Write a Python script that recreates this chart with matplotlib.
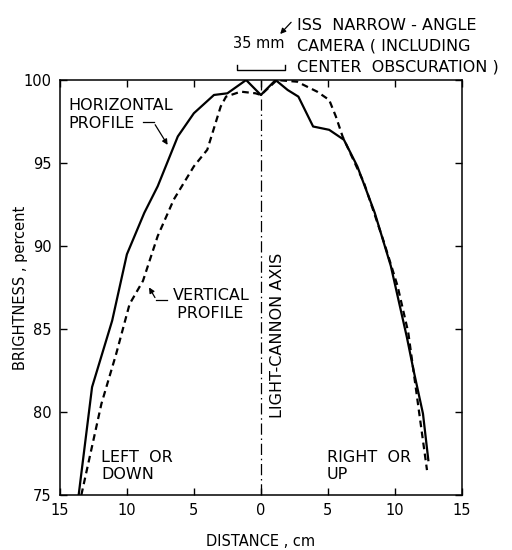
import matplotlib
matplotlib.use("Agg")
import matplotlib.pyplot as plt

# ── data (negative x = left/down side) ──
horiz_x = [-13.6, -12.6, -11.1, -10.0, -8.7, -7.7, -6.2, -5.0, -3.5, -2.5,
           -1.1, 0.0, 1.1, 2.0, 2.8, 3.9, 5.1, 6.2, 7.2, 8.5, 9.7, 10.9,
           11.4, 12.1, 12.5]
horiz_y = [75.0, 81.5, 85.5, 89.5, 92.0, 93.6, 96.6, 98.0, 99.1, 99.2,
           100.0, 99.1, 100.0, 99.4, 99.0, 97.2, 97.0, 96.4, 94.8, 92.0,
           88.8, 84.5, 82.5, 79.9, 77.1]

vert_x = [-13.4, -11.9, -10.8, -9.8, -8.8, -7.7, -6.5, -5.0, -4.0, -3.0,
          -2.6, -1.5, -0.4, 0.0, 1.2, 2.7, 4.2, 5.1, 5.6, 6.1, 7.7, 9.2,
          10.2, 11.0, 12.4]
vert_y = [75.0, 80.5, 83.5, 86.5, 87.9, 90.6, 92.8, 94.8, 95.8, 98.4,
          99.0, 99.3, 99.2, 99.1, 100.0, 99.9, 99.3, 98.8, 97.8, 96.6,
          93.8, 90.2, 87.6, 84.8, 76.5]

x_ticks = [-15, -10, -5, 0, 5, 10, 15]
x_ticklabels = ["15", "10", "5", "0", "5", "10", "15"]
y_ticks = [75, 80, 85, 90, 95, 100]

plt.rcParams["font.family"] = "DejaVu Sans"
FS = 11.5

fig = plt.figure(figsize=(5.12, 5.5), dpi=100)
ax = fig.add_axes([0.117, 0.1, 0.785, 0.7545])

ax.plot(horiz_x, horiz_y, color="black", lw=1.6, solid_joinstyle="round")
ax.plot(vert_x, vert_y, color="black", lw=1.6, ls=(0, (3, 2)))
ax.axvline(0, color="black", lw=0.9, ls=(0, (9, 3, 1.2, 3)))

ax.set_xlim(-15, 15)
ax.set_ylim(75, 100)
ax.set_xticks(x_ticks)
ax.set_xticklabels(x_ticklabels)
ax.set_yticks(y_ticks)
ax.tick_params(direction="in", length=5, width=1, top=True, right=True,
               labelsize=10.5, pad=6)
for sp in ax.spines.values():
    sp.set_linewidth(1.1)

ax.set_xlabel("DISTANCE , cm", fontsize=10.5, labelpad=11)
ax.set_ylabel("BRIGHTNESS , percent", fontsize=10.5)
ax.yaxis.set_label_coords(-0.08, 0.5)

arrow = dict(arrowstyle="-|>", color="black", lw=0.9, mutation_scale=8)

# horizontal profile label + leader
ax.text(-14.4, 97.95, "HORIZONTAL\nPROFILE", fontsize=FS, va="center",
        ha="left", linespacing=1.25)
ax.plot([-8.8, -8.0], [97.45, 97.45], color="black", lw=0.9)
ax.annotate("", xy=(-6.85, 95.95), xytext=(-8.0, 97.45), arrowprops=arrow)

# vertical profile label + leader
ax.text(-6.6, 86.45, "VERTICAL\n PROFILE", fontsize=FS, va="center",
        ha="left", linespacing=1.25)
ax.plot([-7.8, -7.0], [86.75, 86.75], color="black", lw=0.9)
ax.annotate("", xy=(-8.45, 87.65), xytext=(-7.8, 86.75), arrowprops=arrow)

ax.text(0.65, 84.6, "LIGHT-CANNON AXIS", rotation=90, fontsize=FS,
        ha="left", va="center")
ax.text(-11.9, 76.75, "LEFT  OR\nDOWN", fontsize=FS, ha="left", va="center",
        linespacing=1.2)
ax.text(4.9, 76.75, "RIGHT  OR\nUP", fontsize=FS, ha="left", va="center",
        linespacing=1.2)

# top annotation (outside the axes)
fig.text(0.580, 0.916, "ISS  NARROW - ANGLE\nCAMERA ( INCLUDING\nCENTER  OBSCURATION )",
         fontsize=FS, ha="left", va="center", linespacing=1.5)
fig.text(0.506, 0.921, "35 mm", fontsize=10.5, ha="center", va="center")
# 35 mm scale bar
ax.plot([-1.8, -1.8, 1.8, 1.8], [100.9, 100.6, 100.6, 100.9], color="black",
        lw=1.0, clip_on=False)
ax.annotate("", xy=(1.3, 102.65), xytext=(2.4, 103.6), arrowprops=arrow,
            annotation_clip=False)

fig.savefig("out.png", dpi=100)
